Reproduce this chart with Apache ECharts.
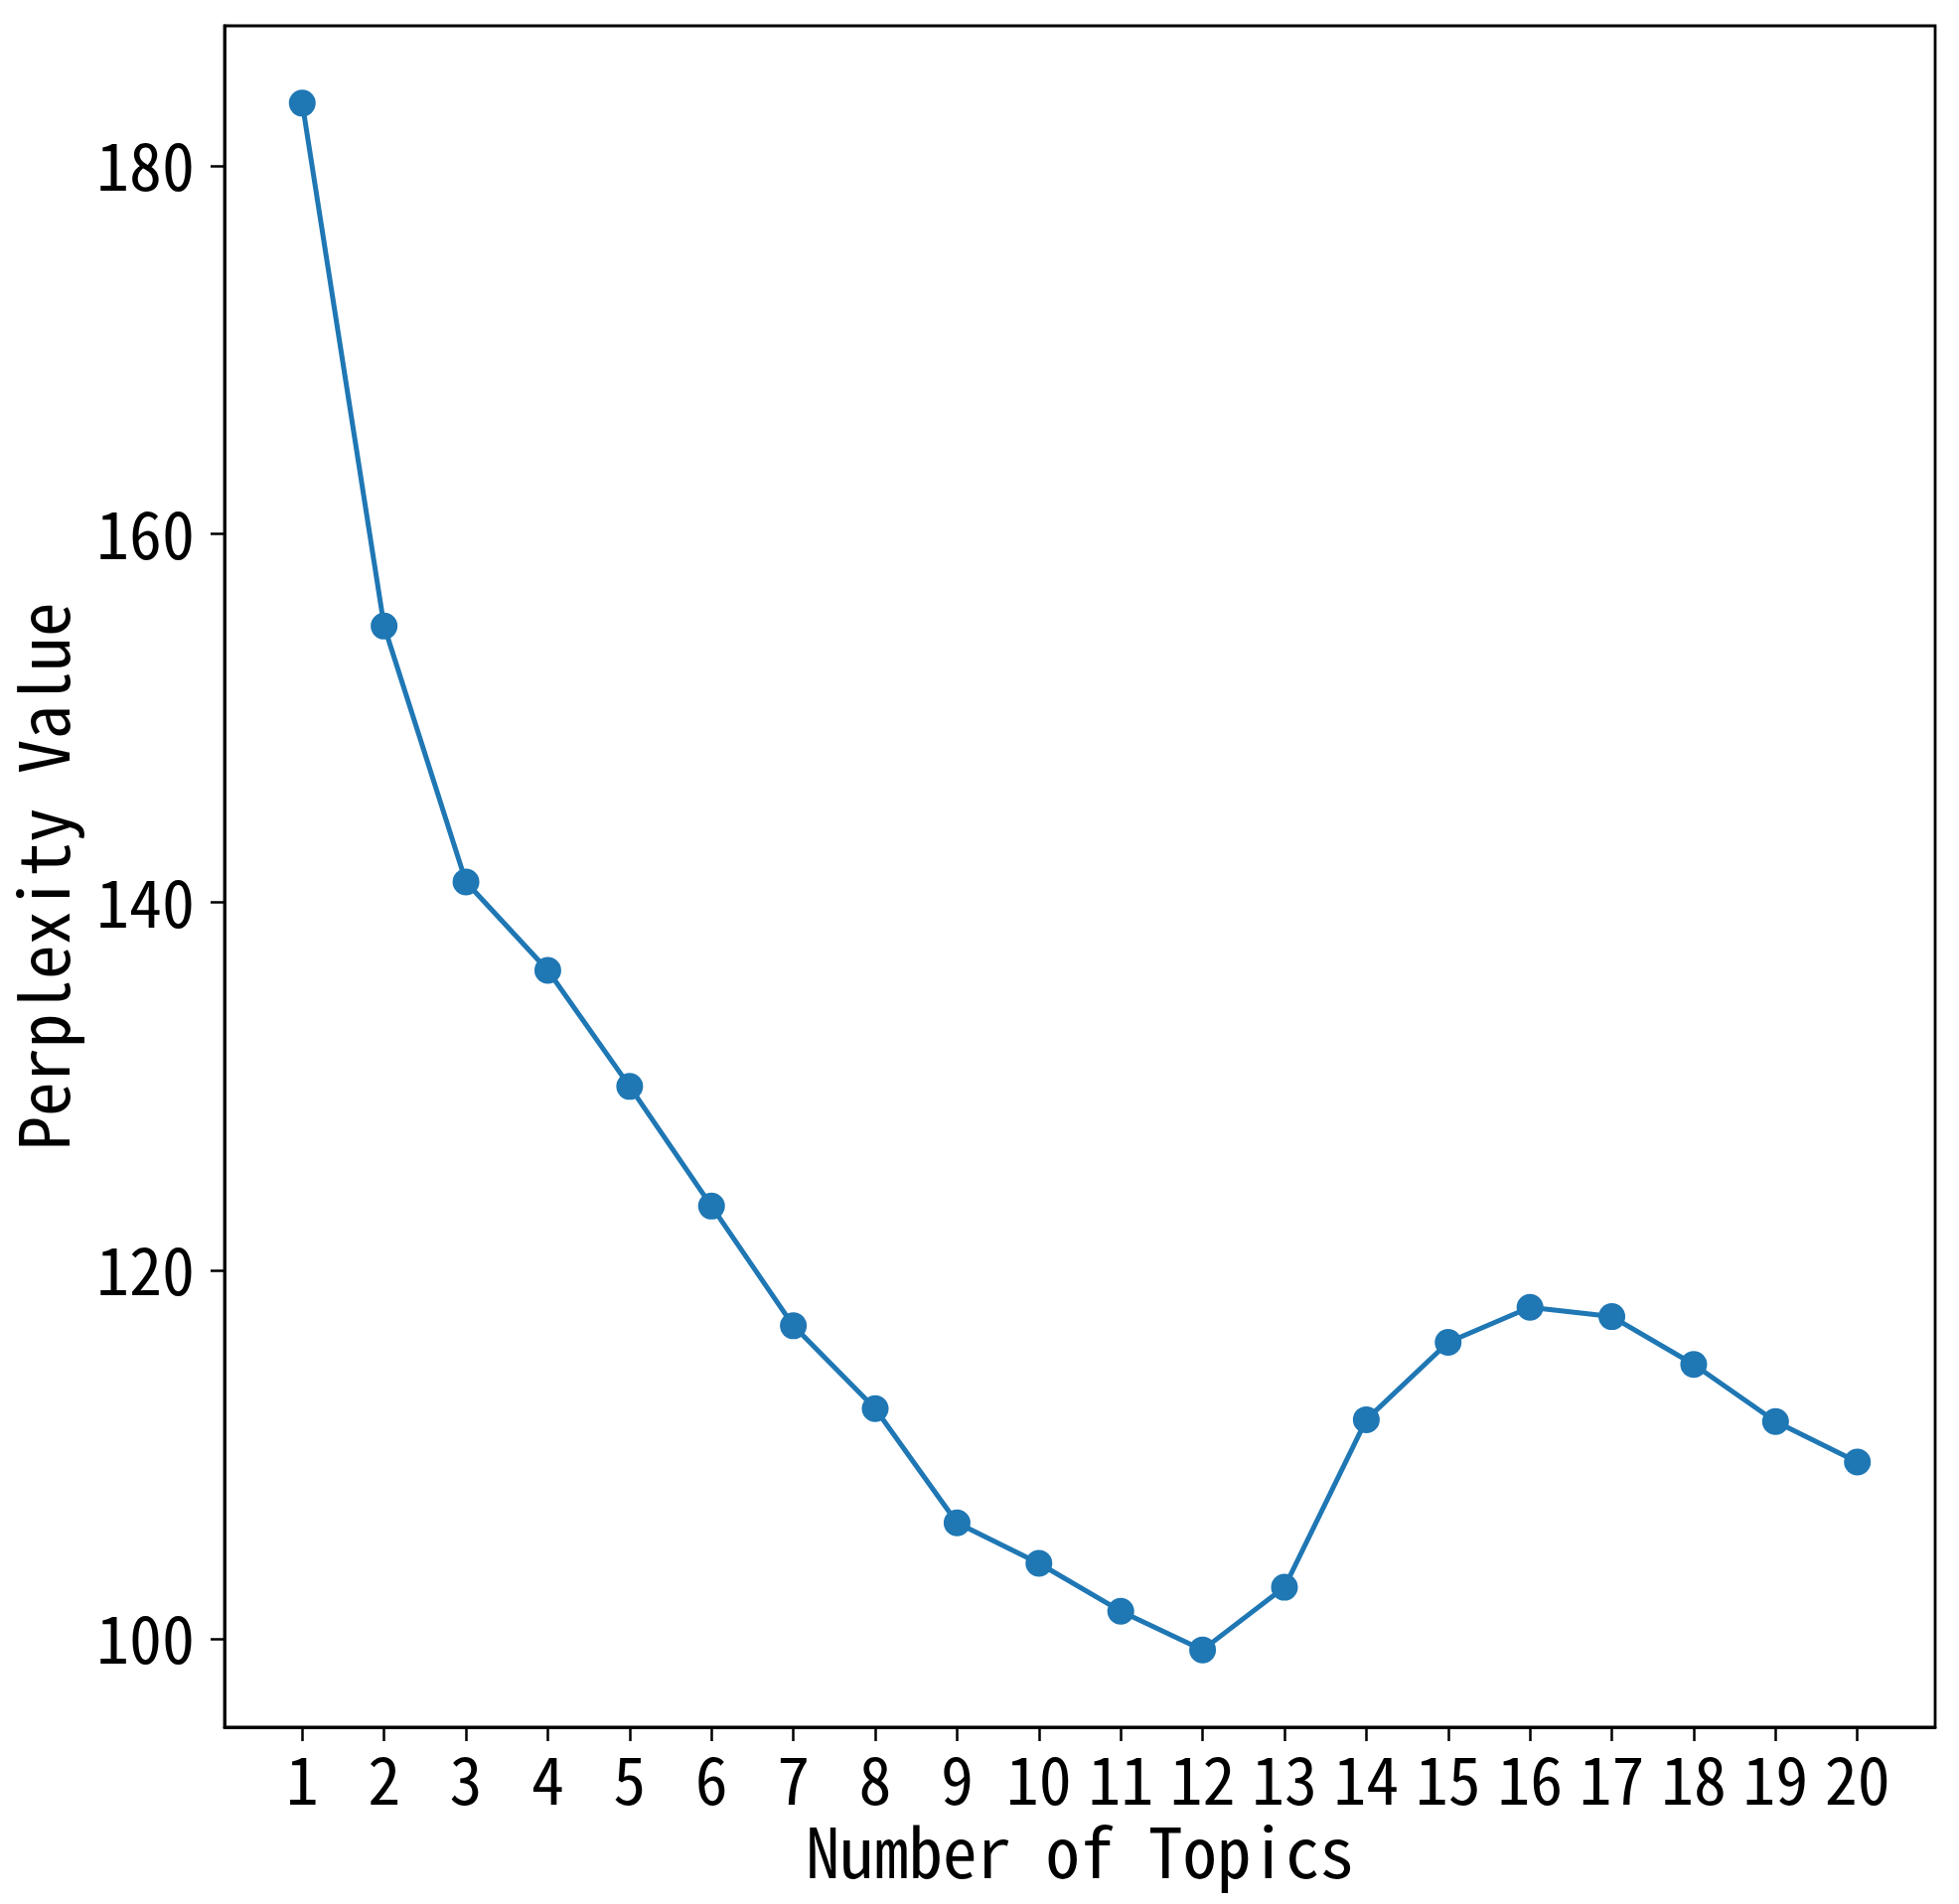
<!DOCTYPE html>
<html>
<head>
<meta charset="utf-8">
<script src="https://cdn.jsdelivr.net/npm/echarts@6/dist/echarts.min.js"></script>
<style>
  html, body { margin: 0; padding: 0; background: #ffffff; }
  #chart { width: 1972px; height: 1917px; }
</style>
</head>
<body>
<div id="chart"></div>
<script>
// Number of topics (x) and perplexity values (y)
const topics = [1, 2, 3, 4, 5, 6, 7, 8, 9, 10, 11, 12, 13, 14, 15, 16, 17, 18, 19, 20];
const perplexity = [183.4, 155.0, 141.1, 136.3, 130.0, 123.5, 117.0, 112.5, 106.3, 104.1,
                    101.5, 99.4, 102.8, 111.9, 116.1, 118.0, 117.5, 114.9, 111.8, 109.6];
const yTicks = [100, 120, 140, 160, 180];
const xTitle = 'Number of Topics';
const yTitle = 'Perplexity Value';

const FONT = "'Noto Sans Mono CJK SC', 'DejaVu Sans Mono', monospace";

const chart = echarts.init(document.getElementById('chart'), null, { renderer: 'canvas' });
const seriesData = topics.map((t, i) => [t, perplexity[i]]);

chart.setOption({
  backgroundColor: '#ffffff',
  animation: false,
  grid: {
    left: 226, right: 24, top: 26, bottom: 178,
    show: true, borderColor: '#000000', borderWidth: 2.8, backgroundColor: 'transparent'
  },
  xAxis: {
    type: 'value',
    min: 0.05,
    max: 20.95,
    name: xTitle,
    nameLocation: 'middle',
    nameGap: 84,
    nameTextStyle: { fontFamily: FONT, fontSize: 69, color: '#000000' },
    axisLine: { show: true, lineStyle: { color: '#000000', width: 2.8 } },
    axisTick: { show: true, inside: false, length: 14, lineStyle: { color: '#000000', width: 2.5 }, customValues: topics },
    axisLabel: { show: true, margin: 20, fontFamily: FONT, fontSize: 66, color: '#000000', customValues: topics },
    splitLine: { show: false }
  },
  yAxis: {
    type: 'value',
    min: 95.2,
    max: 187.6,
    name: yTitle,
    nameLocation: 'middle',
    nameRotate: 90,
    nameGap: 148,
    nameTextStyle: { fontFamily: FONT, fontSize: 69, color: '#000000' },
    axisLine: { show: true, lineStyle: { color: '#000000', width: 2.8 } },
    axisTick: { show: true, inside: false, length: 14, lineStyle: { color: '#000000', width: 2.5 }, customValues: yTicks },
    axisLabel: { show: true, margin: 30, fontFamily: FONT, fontSize: 66, color: '#000000', customValues: yTicks },
    splitLine: { show: false }
  },
  series: [{
    type: 'line',
    data: seriesData,
    symbol: 'circle',
    symbolSize: 27,
    showAllSymbol: true,
    lineStyle: { color: '#1f77b4', width: 5 },
    itemStyle: { color: '#1f77b4' },
    z: 3
  }]
});
</script>
</body>
</html>
